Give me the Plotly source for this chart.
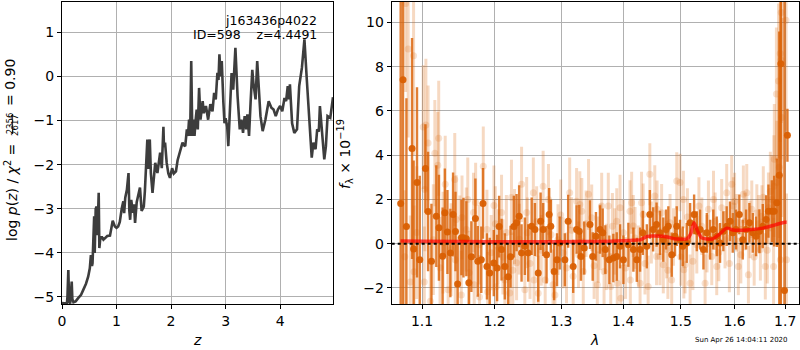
import plotly.graph_objects as go

# ---------------- left panel: log p(z) ----------------
z_grid = [0.0, 0.05, 0.09, 0.10, 0.116, 0.13, 0.15, 0.178, 0.19, 0.21,
          0.25, 0.30, 0.35, 0.39, 0.44, 0.48, 0.51, 0.53, 0.55, 0.56,
          0.59, 0.60, 0.618, 0.636, 0.65, 0.673, 0.685, 0.70, 0.728, 0.76,
          0.79, 0.83, 0.88, 0.93, 0.97, 1.00, 1.03, 1.06, 1.095, 1.11,
          1.125, 1.14, 1.16, 1.19, 1.22, 1.235, 1.25, 1.27, 1.30, 1.32,
          1.34, 1.37, 1.40, 1.43, 1.46, 1.50, 1.52, 1.54, 1.565, 1.58,
          1.59, 1.61, 1.63, 1.66, 1.69, 1.71, 1.75, 1.78, 1.80, 1.83,
          1.86, 1.87, 1.89, 1.92, 1.95, 1.98, 2.02, 2.05, 2.09, 2.12,
          2.15, 2.19, 2.21, 2.23, 2.26, 2.29, 2.31, 2.33, 2.35, 2.37,
          2.39, 2.41, 2.43, 2.45, 2.47, 2.49, 2.514, 2.54, 2.56, 2.58,
          2.60, 2.64, 2.68, 2.72, 2.76, 2.79, 2.82, 2.85, 2.87, 2.887,
          2.91, 2.93, 2.96, 2.98, 3.00, 3.03, 3.05, 3.08, 3.11, 3.14,
          3.18, 3.22, 3.26, 3.29, 3.32, 3.35, 3.38, 3.40, 3.43, 3.46,
          3.49, 3.51, 3.55, 3.58, 3.61, 3.64, 3.68, 3.73, 3.79, 3.84,
          3.88, 3.92, 3.96, 4.00, 4.04, 4.08, 4.11, 4.14, 4.16, 4.18,
          4.22, 4.26, 4.31, 4.35, 4.40, 4.446, 4.49, 4.54, 4.58, 4.61,
          4.65, 4.68, 4.71, 4.73, 4.76, 4.81, 4.84, 4.87, 4.92, 4.97]
log_pz = [-5.14, -5.15, -5.15, -5.0, -4.39, -5.1, -5.15, -4.65, -5.05, -5.12,
          -5.1, -5.02, -4.95, -4.84, -4.7, -4.54, -4.35, -4.05, -4.3, -4.23,
          -3.17, -4.0, -3.0, -2.95, -3.6, -2.64, -3.89, -3.7, -3.63, -3.7,
          -3.66, -3.62, -3.61, -3.27, -3.40, -3.43, -3.40, -3.3, -3.0, -2.85,
          -2.83, -3.1, -2.75, -2.57, -2.19, -3.05, -3.25, -2.8, -3.09, -2.9,
          -3.32, -2.85, -2.64, -2.52, -3.05, -2.95, -2.6, -2.11, -1.43, -2.1,
          -1.6, -1.43, -2.2, -2.64, -2.1, -1.96, -2.19, -1.9, -1.73, -2.08,
          -1.14, -1.6, -1.5, -1.96, -2.2, -2.3, -2.08, -2.2, -2.15, -1.9,
          -1.77, -1.6, -1.5, -1.55, -1.58, -1.2, -1.35, -0.98, -1.35, 0.35,
          -1.35, -0.98, -1.35, -1.0, -0.75, -1.2, -0.26, -0.98, -0.7, -0.56,
          -0.83, -0.67, -0.98, -0.63, -0.79, -0.37, -0.52, 0.08, -0.08, 0.5,
          0.0, 0.35, -0.6, -1.06, -0.95, -1.14, -1.58, -0.63, 0.08, -0.3,
          0.65, -0.45, -1.2, -0.98, -1.28, -0.9, -1.2, -0.86, -1.35, -0.56,
          0.15, -0.15, -0.52, 0.35, -0.37, -0.9, -1.24, -0.98, -0.56, -0.71,
          -0.75, -0.9, -0.75, -0.67, -0.79, -0.49, -0.56, -0.22, -0.52, -0.18,
          -1.06, -1.28, -1.2, -0.22, 0.2, 0.84, -0.08, -1.2, -1.84, -1.5,
          -1.65, -1.2, -1.25, -0.67, -1.06, -1.88, -1.58, -0.9, -0.94, -0.47]

# ---------------- right panel: spectrum ----------------
dark_wave = [1.0722, 1.0752, 1.0796, 1.0869, 1.0890, 1.0934, 1.0970, 1.1045, 1.1080, 1.1125,
             1.1190, 1.1225, 1.1275, 1.1305, 1.1340, 1.1380, 1.1417, 1.1450, 1.1480, 1.1532,
             1.1560, 1.1600, 1.1635, 1.1670, 1.1727, 1.1760, 1.1810, 1.1834, 1.1890, 1.1930,
             1.1988, 1.2036, 1.2065, 1.2100, 1.2148, 1.2196, 1.2231, 1.2280, 1.2320, 1.2358,
             1.2394, 1.2443, 1.2493, 1.2545, 1.2594, 1.2644, 1.2680, 1.2719, 1.2771, 1.2811,
             1.2836, 1.2887, 1.2932, 1.2974, 1.3054, 1.3106, 1.3185, 1.3239, 1.3281, 1.3308,
             1.3361, 1.3453, 1.3497, 1.3550, 1.3616, 1.3660, 1.3703, 1.3769, 1.3835, 1.3892,
             1.3947, 1.4003, 1.4087, 1.4172, 1.4230, 1.4286, 1.4333, 1.4402, 1.4454, 1.4511,
             1.4571, 1.4631, 1.4689, 1.4737, 1.4778, 1.4838, 1.4897, 1.4928, 1.4987, 1.5036,
             1.5108, 1.5169, 1.5242, 1.5291, 1.5352, 1.5413, 1.5476, 1.5537, 1.5596, 1.5661,
             1.5723, 1.5785, 1.5849, 1.5912, 1.5964, 1.6027, 1.6091, 1.6157, 1.6222, 1.6286,
             1.6353, 1.6418, 1.6483, 1.6550, 1.6616, 1.6662, 1.6730, 1.6777, 1.6831, 1.6880,
             1.6912, 1.6985, 1.7046]
dark_flux = [1.82, 7.41, 0.77, 4.30, -0.24, 2.77, -0.73, 3.40, 1.45, -0.80,
             1.24, 0.72, -0.57, 1.40, 0.53, -0.42, 1.32, 0.55, -1.82, 0.27,
             0.27, 0.22, -1.77, -0.59, 1.14, -0.80, -0.73, 1.82, -1.03, -1.33,
             -0.88, -1.10, 0.77, -0.27, -1.03, -1.50, -0.59, 0.77, 0.95, 1.24,
             -0.42, -0.12, -0.42, 0.79, 0.64, -1.33, 1.01, 0.64, -0.50, 1.32,
             0.79, -1.26, -0.73, 0.03, -0.73, 1.01, -1.03, 0.64, 0.56, -0.58,
             -0.20, 0.86, -0.58, 0.33, 0.64, 0.49, -0.27, -0.73, -0.65, -0.58,
             -0.12, -0.73, -0.05, -0.27, -0.73, -0.27, 0.49, -0.12, 1.32, 0.64,
             0.86, 0.49, 0.18, 0.64, 0.79, -0.50, 0.33, 0.79, 0.18, -0.12,
             0.03, 0.94, 1.32, 0.56, 0.64, -0.27, 0.49, 0.18, 0.64, 0.33,
             0.03, 0.56, 0.79, 1.01, 0.49, 0.64, 1.32, 0.18, 0.64, 0.94,
             0.49, 0.33, 0.56, 0.79, 1.09, 1.47, 1.47, 1.47, 1.85, 3.09,
             8.14, -2.12, 4.90]
dark_err = [15.0, 15.0, 5.8, 5.0, 4.0, 4.3, 3.8, 2.0, 2.7, 2.6,
            2.3, 2.4, 2.2, 2.0, 1.9, 2.0, 1.9, 1.8, 1.8, 1.7,
            1.8, 1.7, 1.8, 1.6, 1.8, 1.6, 1.5, 1.6, 1.5, 1.6,
            1.5, 1.5, 1.4, 1.4, 1.5, 1.5, 1.4, 1.4, 1.3, 1.4,
            1.3, 1.3, 1.3, 1.3, 1.2, 1.3, 1.3, 1.2, 1.3, 1.2,
            1.2, 1.3, 1.2, 1.2, 1.2, 1.2, 1.2, 1.1, 1.2, 1.1,
            1.2, 1.1, 1.1, 1.1, 1.1, 1.1, 1.1, 1.1, 1.1, 1.1,
            1.0, 1.1, 1.0, 1.0, 1.0, 1.0, 1.0, 1.0, 1.1, 1.0,
            1.0, 1.0, 1.0, 0.9, 0.9, 1.0, 0.9, 0.9, 0.9, 0.9,
            0.9, 0.9, 0.9, 0.9, 0.9, 0.9, 0.9, 0.9, 0.9, 0.9,
            0.9, 0.9, 0.9, 0.9, 0.9, 0.9, 0.9, 0.9, 0.9, 0.9,
            0.9, 0.9, 1.0, 1.0, 1.1, 1.2, 1.4, 1.6, 2.0, 6.5,
            11.0, 14.0, 1.2]

light_wave = [1.0775, 1.0786, 1.0819, 1.0846, 1.0889, 1.0895, 1.0930, 1.1015, 1.1030, 1.1038,
              1.1051, 1.1080, 1.1110, 1.1150, 1.1170, 1.1210, 1.1222, 1.1240, 1.1280, 1.1310,
              1.1350, 1.1390, 1.1440, 1.1447, 1.1460, 1.1510, 1.1530, 1.1540, 1.1600, 1.1620,
              1.1640, 1.1700, 1.1710, 1.1730, 1.1780, 1.1785, 1.1838, 1.1890, 1.1900, 1.1950,
              1.1990, 1.2024, 1.2050, 1.2100, 1.2148, 1.2170, 1.2220, 1.2245, 1.2290, 1.2320,
              1.2394, 1.2443, 1.2470, 1.2480, 1.2570, 1.2580, 1.2644, 1.2719, 1.2750, 1.2800,
              1.2870, 1.2900, 1.2947, 1.3027, 1.3130, 1.3185, 1.3239, 1.3290, 1.3322, 1.3345,
              1.3430, 1.3481, 1.3572, 1.3590, 1.3643, 1.3682, 1.3752, 1.3792, 1.3820, 1.3892,
              1.3900, 1.3947, 1.3960, 1.4003, 1.4114, 1.4120, 1.4142, 1.4200, 1.4258, 1.4286,
              1.4311, 1.4339, 1.4425, 1.4454, 1.4540, 1.4571, 1.4580, 1.4631, 1.4689, 1.4749,
              1.4808, 1.4838, 1.4928, 1.4987, 1.5048, 1.5055, 1.5078, 1.5169, 1.5291, 1.5383,
              1.5444, 1.5506, 1.5568, 1.5631, 1.5661, 1.5754, 1.5817, 1.5849, 1.5944, 1.5976,
              1.6040, 1.6072, 1.6169, 1.6235, 1.6267, 1.6299, 1.6333, 1.6432, 1.6502, 1.6533,
              1.6600, 1.6662, 1.6700, 1.6730, 1.6765, 1.6772, 1.6780, 1.6822, 1.6831, 1.6865,
              1.6880, 1.6900, 1.6902, 1.6915, 1.6920, 1.6932, 1.7018, 1.7027,
              # points partly hidden behind the darker series
              1.2010, 1.2120, 1.2265, 1.2360, 1.2520, 1.2620, 1.2690, 1.2840, 1.2990, 1.3080,
              1.3160, 1.3270, 1.3390, 1.3520, 1.3620, 1.3720, 1.3860, 1.4040, 1.4170, 1.4370,
              1.4480, 1.4660, 1.4770, 1.4870, 1.5000, 1.5120, 1.5220, 1.5330, 1.5480, 1.5600,
              1.5700, 1.5900, 1.6000, 1.6120, 1.6200, 1.6380, 1.6470, 1.6560, 1.6640]
light_flux = [-0.59, 10.86, 8.8, -1.73, 8.5, -1.27, 0.5, 5.27, -1.73, 2.45,
              5.36, 4.55, -2.6, 0.18, 4.09, 3.55, 4.77, -1.09, 0.05, 2.68,
              -2.09, -0.27, 2.9, -0.73, 1.09, 0.18, -2.32, 1.18, 0.64, 2.0,
              -1.32, 1.41, -1.86, 1.86, -0.05, -2.41, 3.5, 0.64, -2.18, -0.41,
              1.73, -1.95, -0.14, 1.41, -1.64, 0.5, -2.23, 2.09, 0.77, -0.86,
              2.68, -2.09, 1.41, 0.49, 2.3, -1.64, -2.24, 2.6, -1.64, 2.0,
              -1.86, -2.32, 0.18, -0.42, 2.3, -1.48, 1.92, 1.77, 1.47, -1.26,
              2.23, 1.17, -1.86, -0.27, 1.7, -1.26, 1.7, -1.94, 0.79, 1.01,
              -1.79, 1.62, -2.47, 0.49, 1.47, -1.64, 1.85, 0.26, -0.58, -1.79,
              1.85, 1.32, -1.94, 3.14, 2.15, -0.58, 1.55, -0.58, -0.95, -0.27,
              0.94, -1.64, 2.83, 2.76, 2.0, -1.18, -0.95, -1.79, -0.05, 0.79,
              -1.79, 1.55, -0.58, 1.01, -1.03, 1.62, 0.18, 2.3, 2.68, 1.7,
              0.94, -1.03, 2.23, 2.3, -1.41, 0.64, 1.55, 1.39, -0.27, 1.24,
              -1.03, 1.62, 2.36, 2.0, -1.03, 2.6, 3.82, 6.77, 2.76, 7.36,
              3.45, 8.6, -0.73, 8.3, 10.45, 5.7, 10.1, -0.73,
              0.9, -0.6, -1.2, 0.2, -0.9, 1.0, -0.3, 0.4, 1.3, -1.1,
              0.6, -0.5, 0.9, -1.0, 0.3, -0.6, 0.1, -1.1, 0.8, -0.9,
              0.5, 1.4, -1.2, 0.3, -0.6, 1.2, -0.8, 1.7, 0.0, 2.0,
              -0.4, -0.9, 1.9, -0.5, 1.0, -0.6, 0.9, 2.1, -0.3]
light_err = [3.0, 4.0, 4.0, 3.0, 4.5, 3.0, 3.0, 2.8, 2.5, 2.8,
             3.0, 2.6, 2.5, 2.5, 2.4, 2.4, 2.6, 2.3, 2.3, 2.2,
             2.2, 2.1, 2.1, 2.0, 2.0, 2.0, 2.0, 1.9, 1.9, 1.9,
             1.9, 1.8, 1.9, 1.8, 1.8, 1.9, 1.8, 1.8, 1.8, 1.7,
             1.8, 1.8, 1.7, 1.7, 1.7, 1.7, 1.8, 1.7, 1.7, 1.7,
             1.7, 1.7, 1.6, 1.6, 1.6, 1.6, 1.7, 1.6, 1.6, 1.6,
             1.6, 1.6, 1.6, 1.6, 1.6, 1.6, 1.5, 1.5, 1.5, 1.5,
             1.6, 1.5, 1.5, 1.5, 1.5, 1.5, 1.5, 1.5, 1.5, 1.5,
             1.5, 1.5, 1.5, 1.5, 1.4, 1.4, 1.4, 1.4, 1.4, 1.4,
             1.4, 1.4, 1.4, 1.4, 1.4, 1.3, 1.3, 1.3, 1.3, 1.3,
             1.3, 1.3, 1.3, 1.3, 1.3, 1.3, 1.3, 1.3, 1.3, 1.3,
             1.3, 1.3, 1.3, 1.3, 1.3, 1.3, 1.3, 1.3, 1.3, 1.3,
             1.3, 1.3, 1.3, 1.3, 1.3, 1.3, 1.3, 1.3, 1.4, 1.4,
             1.5, 1.6, 1.8, 2.0, 2.2, 2.3, 2.5, 3.0, 2.8, 3.5,
             3.2, 4.0, 4.0, 4.5, 5.0, 4.5, 5.0, 3.0,
             1.7, 1.7, 1.7, 1.6, 1.6, 1.6, 1.6, 1.6, 1.6, 1.6,
             1.5, 1.5, 1.5, 1.5, 1.5, 1.5, 1.5, 1.4, 1.4, 1.4,
             1.4, 1.3, 1.3, 1.3, 1.3, 1.3, 1.3, 1.3, 1.3, 1.3,
             1.3, 1.3, 1.3, 1.3, 1.3, 1.3, 1.3, 1.4, 1.5]

model_wave = [1.072, 1.10, 1.20, 1.30, 1.36, 1.40, 1.417, 1.43, 1.441, 1.457,
              1.476, 1.488, 1.50, 1.511, 1.518, 1.524, 1.530, 1.538, 1.557, 1.570,
              1.585, 1.597, 1.6235, 1.6557, 1.68, 1.699, 1.703]
model_flux = [0.12, 0.11, 0.09, 0.09, 0.10, 0.13, 0.15, 0.18, 0.33, 0.34,
              0.30, 0.22, 0.20, 0.21, 0.45, 0.94, 0.60, 0.26, 0.20, 0.40,
              0.70, 0.62, 0.62, 0.70, 0.85, 0.97, 0.97]

z_ticks = [0, 1, 2, 3, 4]
logp_ticks = [-5, -4, -3, -2, -1, 0, 1]
wave_ticks = [1.1, 1.2, 1.3, 1.4, 1.5, 1.6, 1.7]
wave_ticklabels = ["1.1", "1.2", "1.3", "1.4", "1.5", "1.6", "1.7"]
flux_ticks = [-2, 0, 2, 4, 6, 8, 10]

assert len(z_grid) == len(log_pz)
assert len(dark_wave) == len(dark_flux) == len(dark_err)
assert len(light_wave) == len(light_flux) == len(light_err)
assert len(model_wave) == len(model_flux)

FONT = "DejaVu Sans"
W, H = 800, 350


def px(x):
    return x / W


def py(y):
    return 1 - y / H


fig = go.Figure()

fig.add_trace(go.Scatter(
    x=z_grid, y=log_pz, mode="lines",
    line=dict(color="#3d3d3d", width=2.6),
    xaxis="x", yaxis="y", showlegend=False, hoverinfo="skip"))

fig.add_trace(go.Scatter(
    x=light_wave, y=light_flux, mode="markers",
    marker=dict(size=7, color="rgba(217,95,2,0.18)", line=dict(width=0)),
    error_y=dict(type="data", array=light_err, color="rgba(217,95,2,0.24)",
                 thickness=3, width=0),
    xaxis="x2", yaxis="y2", showlegend=False, hoverinfo="skip"))

fig.add_trace(go.Scatter(
    x=dark_wave, y=dark_flux, mode="markers",
    marker=dict(size=7, color="rgba(217,95,2,0.95)", line=dict(width=0)),
    error_y=dict(type="data", array=dark_err, color="rgba(217,95,2,0.8)",
                 thickness=2.4, width=0),
    xaxis="x2", yaxis="y2", showlegend=False, hoverinfo="skip"))

fig.add_trace(go.Scatter(
    x=model_wave, y=model_flux, mode="lines",
    line=dict(color="rgba(255,0,0,0.7)", width=3.5, shape="spline", smoothing=0.6),
    xaxis="x2", yaxis="y2", showlegend=False, hoverinfo="skip"))

axis_common = dict(
    showgrid=True, gridcolor="#b0b0b0", gridwidth=1,
    showline=True, linecolor="black", linewidth=1, mirror=True,
    ticks="outside", ticklen=4, tickcolor="black", tickwidth=1,
    tickfont=dict(family=FONT, size=14, color="black"),
    zeroline=False, automargin=False,
)

ydom = [py(304), py(1.5)]

fig.update_layout(
    width=W, height=H,
    margin=dict(l=0, r=0, t=0, b=0, autoexpand=False),
    paper_bgcolor="white", plot_bgcolor="white",
    font=dict(family=FONT, color="black"),
    xaxis=dict(domain=[px(62), px(333)], range=[0, 4.97], tickvals=z_ticks,
               anchor="y", **axis_common),
    yaxis=dict(domain=ydom, range=[-5.16, 1.70], tickvals=logp_ticks,
               anchor="x", **axis_common),
    xaxis2=dict(domain=[px(391.7), px(799.3)], type="log", range=[0.0256, 0.2378],
                tickvals=wave_ticks, ticktext=wave_ticklabels, anchor="y2",
                **axis_common),
    yaxis2=dict(domain=ydom, range=[-2.73, 10.95], tickvals=flux_ticks,
                anchor="x2", **axis_common),
    shapes=[
        dict(type="line", xref="x2 domain", yref="y2", x0=0, x1=1, y0=0, y1=0,
             line=dict(color="black", width=2, dash="dot"), layer="above"),
        dict(type="line", xref="paper", yref="paper", x0=px(12.6), x1=px(12.6),
             y0=py(134), y1=py(114), line=dict(color="black", width=0.8)),
    ],
)

ann = []
ann.append(dict(text="j163436p4022", x=px(319), y=py(20), xref="paper", yref="paper",
                xanchor="right", yanchor="middle", showarrow=False,
                font=dict(family=FONT, size=12.5, color="black")))
ann.append(dict(text="ID=598\u00a0\u00a0\u00a0\u00a0z=4.4491", x=px(319), y=py(34),
                xref="paper", yref="paper", xanchor="right", yanchor="middle",
                showarrow=False, font=dict(family=FONT, size=12.5, color="black")))
# axis titles
ann.append(dict(text="<i>z</i>", x=px(197), y=py(340), xref="paper", yref="paper",
                xanchor="center", yanchor="middle", showarrow=False,
                font=dict(family=FONT, size=14, color="black")))
ann.append(dict(text="<i>λ</i>", x=px(594.5), y=py(340), xref="paper", yref="paper",
                xanchor="center", yanchor="middle", showarrow=False,
                font=dict(family=FONT, size=14, color="black")))
ann.append(dict(text="<i>f</i><sub>λ</sub> × 10<sup>−19</sup>", x=px(345), y=py(154),
                xref="paper", yref="paper", xanchor="center", yanchor="middle",
                textangle=-90, showarrow=False,
                font=dict(family=FONT, size=14, color="black")))
# left y label with stacked fraction
ann.append(dict(text="log <i>p</i>(<i>z</i>) / <i>χ</i><sup>2</sup> =", x=px(10.5), y=py(142),
                xref="paper", yref="paper", xanchor="center", yanchor="top",
                textangle=-90, showarrow=False,
                font=dict(family=FONT, size=14, color="black")))
ann.append(dict(text="2356", x=px(9.8), y=py(123.5), xref="paper", yref="paper",
                xanchor="center", yanchor="middle", textangle=-90, showarrow=False,
                font=dict(family=FONT, size=8.5, color="black")))
ann.append(dict(text="2617", x=px(15.4), y=py(124.5), xref="paper", yref="paper",
                xanchor="center", yanchor="middle", textangle=-90, showarrow=False,
                font=dict(family=FONT, size=8.5, color="black")))
ann.append(dict(text="= 0.90", x=px(10.5), y=py(108), xref="paper", yref="paper",
                xanchor="center", yanchor="bottom", textangle=-90, showarrow=False,
                font=dict(family=FONT, size=14, color="black")))
ann.append(dict(text="Sun Apr 26 14:04:11 2020", x=px(741.5), y=py(339.5),
                xref="paper", yref="paper", xanchor="center", yanchor="middle",
                showarrow=False, font=dict(family=FONT, size=7, color="black")))
fig.update_layout(annotations=ann)

fig.write_html(
    "out.html",
    config={"displayModeBar": False},
    post_script="document.body.style.margin='0';document.body.style.padding='0';"
                "document.body.style.overflow='hidden';",
)
